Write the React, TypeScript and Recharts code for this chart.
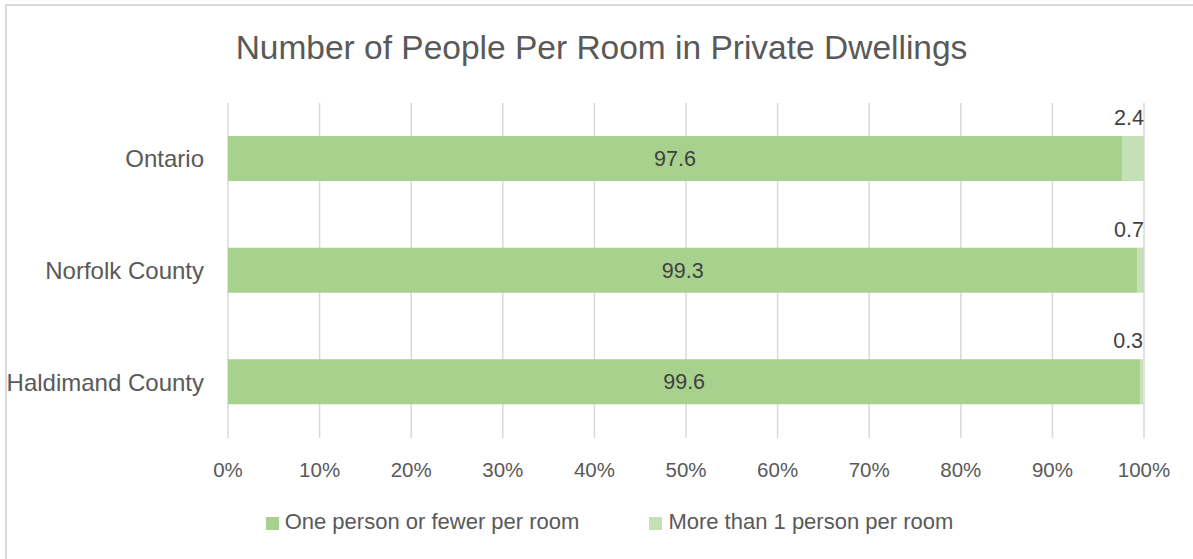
import { Bar, BarChart, CartesianGrid, LabelList, Legend, XAxis, YAxis } from "recharts";

const regions = ["Ontario", "Norfolk County", "Haldimand County"];
const onePersonOrFewer = [97.6, 99.3, 99.6];
const moreThanOne = [2.4, 0.7, 0.3];
const xTicks = [0, 10, 20, 30, 40, 50, 60, 70, 80, 90, 100];

const data = regions.map((name, i) => ({
  name,
  low: onePersonOrFewer[i],
  high: moreThanOne[i],
}));

const FONT = "'Liberation Sans', Arial, sans-serif";
const TEXT = "#595959";

function EndLabel(props: any) {
  const { x, y, width, value } = props;
  return (
    <text x={x + width} y={y - 11} textAnchor="end" fill="#404040" fontSize={21.5} fontFamily={FONT}>
      {value}
    </text>
  );
}

export default function App() {
  return (
    <div style={{ position: "absolute", left: 0, top: 0, width: 1193, height: 559, overflow: "hidden", background: "#fff" }}>
      <div
        style={{
          position: "absolute",
          left: 5,
          top: 4,
          width: 1220,
          height: 600,
          border: "2px solid #D9D9D9",
        }}
      />
      <div
        style={{
          position: "absolute",
          left: 0,
          top: 31,
          width: 1203,
          textAlign: "center",
          fontFamily: FONT,
          fontSize: 33.5,
          lineHeight: "34px",
          color: TEXT,
        }}
      >
        Number of People Per Room in Private Dwellings
      </div>
      <div style={{ position: "absolute", left: 0, top: 0 }}>
        <BarChart
          width={1193}
          height={559}
          data={data}
          layout="vertical"
          barSize={45}
          margin={{ top: 103, right: 49, bottom: 25, left: 0 }}
        >
          <CartesianGrid horizontal={false} stroke="#D9D9D9" strokeWidth={1.5} />
          <XAxis
            type="number"
            domain={[0, 100]}
            ticks={xTicks}
            tickFormatter={(v: number) => `${v}%`}
            axisLine={false}
            tickLine={false}
            tickMargin={18}
            height={70}
            tick={{ fill: TEXT, fontSize: 20.5, fontFamily: FONT }}
            interval={0}
          />
          <YAxis
            type="category"
            dataKey="name"
            width={228}
            axisLine={false}
            tickLine={false}
            tickSize={0}
            tickMargin={24}
            tick={{ fill: TEXT, fontSize: 24, fontFamily: FONT }}
          />
          <Legend
            verticalAlign="bottom"
            align="center"
            iconType="square"
            iconSize={13}
            itemSorter={(item: any) => (item.dataKey === "low" ? 0 : 1)}
            wrapperStyle={{ left: 18, width: 1193, bottom: 24, fontFamily: FONT, fontSize: 22 }}
            formatter={(value: string, _entry: any, index: number) => (
              <span style={{ color: TEXT, marginLeft: 2, marginRight: index === 0 ? 60 : 0 }}>{value}</span>
            )}
          />
          <Bar
            dataKey="low"
            name="One person or fewer per room"
            stackId="a"
            fill="#A9D18E"
            isAnimationActive={false}
          >
            <LabelList dataKey="low" position="center" fill="#404040" fontSize={21.5} fontFamily={FONT} />
          </Bar>
          <Bar
            dataKey="high"
            name="More than 1 person per room"
            stackId="a"
            fill="#C5E0B4"
            isAnimationActive={false}
          >
            <LabelList dataKey="high" content={EndLabel} />
          </Bar>
        </BarChart>
      </div>
    </div>
  );
}
